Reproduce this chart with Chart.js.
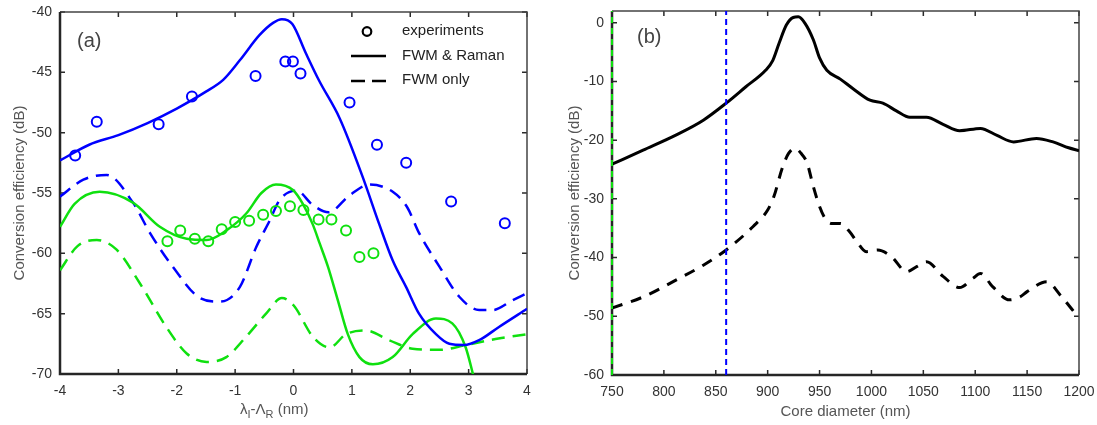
<!DOCTYPE html>
<html>
<head>
<meta charset="utf-8">
<script src="https://cdn.jsdelivr.net/npm/chart.js@4.4.1/dist/chart.umd.min.js"></script>
<style>
    body { margin: 0; background: #fff; }
    .panel { position: absolute; top: 0; }
    #panelA { left: 0; }
    #panelB { left: 560px; }
    .xlab {
        position: absolute; left: 240px; top: 400px;
        font: 15px 'Liberation Sans', Arial, sans-serif; color: #555;
    }
    .xlab sub { font-size: 11px; }
</style>
</head>
<body>
<div class="panel" id="panelA"><canvas id="chartA" width="560" height="425"></canvas></div>
<div class="panel" id="panelB"><canvas id="chartB" width="537" height="425"></canvas></div>
<div class="xlab">&lambda;<sub>I</sub>-&Lambda;<sub>R</sub> (nm)</div>

<script>
/* ── Data: panel (a) ─────────────────────────────────────────── */
const expBlueX  = [-3.74, -3.37, -2.31, -1.74, -0.65, -0.14, -0.01, 0.12, 0.96, 1.43, 1.93, 2.70, 3.62];
const expBlueY  = [-51.9, -49.1, -49.3, -47.0, -45.3, -44.1, -44.1, -45.1, -47.5, -51.0, -52.5, -55.7, -57.5];
const expGreenX = [-2.16, -1.94, -1.69, -1.46, -1.23, -1.0, -0.76, -0.52, -0.30, -0.06, 0.17, 0.43, 0.65, 0.90, 1.13, 1.37];
const expGreenY = [-59.0, -58.1, -58.8, -59.0, -58.0, -57.4, -57.3, -56.8, -56.5, -56.1, -56.4, -57.2, -57.2, -58.1, -60.3, -60.0];

const ramanBlueX = [-4, -3.5, -3.0, -2.5, -2.0, -1.5, -1.2, -0.92, -0.58, -0.35, -0.2, -0.02, 0.21, 0.44, 0.79, 1.18, 1.47, 1.70, 1.93, 2.15, 2.44, 2.67, 2.92, 3.18, 3.52, 4.0];
const ramanBlueY = [-52.3, -51.0, -50.2, -49.2, -48.0, -46.6, -45.6, -44.0, -41.9, -40.9, -40.6, -41.0, -43.4, -45.7, -48.8, -53.6, -57.6, -60.6, -62.8, -65.0, -66.7, -67.5, -67.6, -67.2, -66.1, -64.6];
const fwmBlueX   = [-4, -3.6, -3.2, -2.75, -2.46, -2.07, -1.6, -1.26, -0.92, -0.64, -0.41, -0.24, 0.05, 0.33, 0.6, 0.96, 1.3, 1.7, 1.95, 2.15, 2.5, 2.84, 3.18, 3.41, 3.75, 4.0];
const fwmBlueY   = [-55.3, -53.9, -53.5, -55.8, -58.3, -61.1, -63.7, -64.0, -62.8, -59.5, -57.3, -55.6, -54.8, -56.0, -56.6, -55.2, -54.3, -54.9, -56.2, -58.3, -61.1, -63.6, -64.7, -64.7, -63.9, -63.3];

const ramanGreenX = [-4, -3.75, -3.32, -2.75, -2.29, -1.83, -1.49, -1.15, -0.81, -0.55, -0.3, -0.01, 0.16, 0.33, 0.45, 0.59, 0.76, 0.93, 1.13, 1.36, 1.70, 2.04, 2.44, 2.72, 2.95, 3.1];
const ramanGreenY = [-57.8, -55.9, -54.9, -55.8, -57.8, -58.8, -58.9, -58.1, -56.7, -55.0, -54.3, -54.75, -55.9, -57.6, -59.2, -61.1, -63.9, -66.7, -68.6, -69.2, -68.6, -66.7, -65.4, -65.8, -67.8, -70.5];
const fwmGreenX   = [-4, -3.7, -3.37, -3.03, -2.63, -2.18, -1.83, -1.49, -1.15, -0.81, -0.47, -0.2, 0.0, 0.33, 0.62, 0.90, 1.24, 1.64, 2.04, 2.5, 2.95, 3.46, 4.0];
const fwmGreenY   = [-61.4, -59.4, -58.9, -59.7, -62.5, -66.1, -68.3, -69.0, -68.6, -66.9, -65.0, -63.7, -64.3, -66.9, -67.8, -66.7, -66.4, -67.2, -67.9, -68.0, -67.6, -67.1, -66.7];

const legendLabels = ['experiments', 'FWM & Raman', 'FWM only'];

/* ── Data: panel (b) ─────────────────────────────────────────── */
const coreX  = [750, 780, 812, 838, 860, 879, 898, 905, 911, 918, 924.6, 929.5, 936, 944, 950, 957, 970, 982, 998.6, 1011, 1024, 1037, 1053, 1069, 1085, 1105, 1121, 1137, 1159, 1175, 1190, 1200];
const coreY  = [-24.1, -21.7, -19.1, -16.6, -13.7, -10.9, -8.1, -6.4, -3.5, -0.4, 0.9, 1.0, -0.1, -2.9, -6.0, -8.1, -9.6, -11.2, -13.2, -13.7, -15.0, -16.1, -16.1, -17.3, -18.4, -18.0, -19.2, -20.3, -19.7, -20.3, -21.3, -21.8];
const coreFwmX = [750, 780, 812, 838, 860, 886, 900, 906, 914, 920, 926.5, 932, 938, 944, 950, 956, 962, 970, 979, 986, 995, 1006, 1019, 1034, 1044, 1053, 1069, 1085, 1098, 1105, 1117, 1133, 1143, 1150, 1169, 1182, 1195];
const coreFwmY = [-48.6, -46.7, -43.8, -41.3, -38.7, -34.7, -31.9, -29.6, -24.8, -22.3, -21.4, -22.2, -23.9, -27.9, -31.3, -33.5, -34.2, -34.2, -35.6, -37.3, -39.0, -38.7, -39.8, -42.4, -41.5, -40.7, -43.2, -45.1, -43.5, -42.7, -45.0, -47.2, -46.7, -45.8, -44.1, -46.4, -49.2];
const guideX = [750, 860];
const guideY = [-60, 2];

/* ── Helpers ──────────────────────────────────────────────────── */
const FONT = "'Liberation Sans', Arial, sans-serif";
const BLUE = '#0000ff', GREEN = '#0fe00f';

function pts(xs, ys) { return xs.map((x, i) => ({ x: x, y: ys[i] })); }

function curve(label, xs, ys, color, dash, width) {
    return {
        label: label, data: pts(xs, ys),
        borderColor: color, borderWidth: width || 2.5, borderDash: dash || [],
        pointRadius: 0, fill: false, cubicInterpolationMode: 'monotone'
    };
}

function markers(label, xs, ys, color) {
    return {
        label: label, data: pts(xs, ys), showLine: false,
        pointRadius: 5, pointBorderWidth: 2, pointBorderColor: color,
        pointBackgroundColor: 'rgba(0,0,0,0)', pointHoverRadius: 5
    };
}

// Inward MATLAB-style ticks + box; left/bottom heavier
const frameTicks = {
    id: 'frameTicks',
    beforeDatasetsDraw(chart) {
        const { ctx, chartArea: a, scales: { x, y } } = chart;
        ctx.save();
        ctx.strokeStyle = '#2a2a2a';
        ctx.lineWidth = 1.5;
        ctx.beginPath();
        x.ticks.forEach(t => {
            const px = x.getPixelForValue(t.value);
            ctx.moveTo(px, a.bottom); ctx.lineTo(px, a.bottom - 5);
            ctx.moveTo(px, a.top);    ctx.lineTo(px, a.top + 5);
        });
        y.ticks.forEach(t => {
            const py = y.getPixelForValue(t.value);
            ctx.moveTo(a.left, py);  ctx.lineTo(a.left + 5, py);
            ctx.moveTo(a.right, py); ctx.lineTo(a.right - 5, py);
        });
        ctx.stroke();
        // top & right (thin)
        ctx.strokeStyle = '#444';
        ctx.lineWidth = 1.5;
        ctx.beginPath();
        ctx.moveTo(a.left, a.top); ctx.lineTo(a.right, a.top); ctx.lineTo(a.right, a.bottom);
        ctx.stroke();
        // left & bottom (heavy)
        ctx.strokeStyle = '#262626';
        ctx.lineWidth = 2.5;
        ctx.beginPath();
        ctx.moveTo(a.left, a.top); ctx.lineTo(a.left, a.bottom); ctx.lineTo(a.right, a.bottom);
        ctx.stroke();
        ctx.restore();
    }
};

function panelTag(text, px, py) {
    return {
        id: 'panelTag',
        afterDraw(chart) {
            const ctx = chart.ctx;
            ctx.save();
            ctx.font = '20px ' + FONT;
            ctx.fillStyle = '#444';
            ctx.textBaseline = 'middle';
            ctx.fillText(text, px, py);
            ctx.restore();
        }
    };
}

// Legend drawn inside panel (a), generic black keys
const legendA = {
    id: 'legendA',
    afterDraw(chart) {
        const ctx = chart.ctx;
        ctx.save();
        ctx.strokeStyle = '#000';
        ctx.lineWidth = 2.2;
        ctx.beginPath(); ctx.arc(367, 31.5, 4.3, 0, Math.PI * 2); ctx.stroke();
        ctx.lineWidth = 2.5;
        ctx.beginPath(); ctx.moveTo(351, 56); ctx.lineTo(386, 56); ctx.stroke();
        ctx.beginPath();
        ctx.moveTo(351, 81); ctx.lineTo(365, 81);
        ctx.moveTo(372, 81); ctx.lineTo(386, 81);
        ctx.stroke();
        ctx.font = '15px ' + FONT;
        ctx.fillStyle = '#222';
        ctx.textBaseline = 'middle';
        legendLabels.forEach((t, i) => ctx.fillText(t, 402, 31 + i * 24.5));
        ctx.restore();
    }
};

function axisX(min, max, step, height, title) {
    return {
        type: 'linear', min: min, max: max,
        grid: { display: false }, border: { display: false },
        ticks: { stepSize: step, padding: 1, color: '#333', font: { family: FONT, size: 14 }, maxRotation: 0, callback: v => String(v) },
        title: title ? { display: true, text: title, color: '#555', font: { family: FONT, size: 15 }, padding: { top: 0, bottom: 4 } } : { display: false },
        afterFit: s => { s.height = height; }
    };
}

function axisY(min, max, step, width, titlePad) {
    return {
        type: 'linear', min: min, max: max, bounds: 'data',
        grid: { display: false }, border: { display: false },
        ticks: { stepSize: step, includeBounds: false, padding: 0, color: '#333', font: { family: FONT, size: 14 }, callback: v => String(v) },
        title: { display: true, text: 'Conversion efficiency (dB)', color: '#555', font: { family: FONT, size: 15 }, padding: { top: titlePad, bottom: 0 } },
        afterBuildTicks: s => { s.ticks = s.ticks.filter(t => t.value % step === 0 && t.value <= max); },
        afterFit: s => { s.width = width; }
    };
}

const baseOptions = {
    responsive: false,
    animation: false,
    plugins: { legend: { display: false }, tooltip: { enabled: false } }
};

/* ── Panel (a) ────────────────────────────────────────────────── */
new Chart(document.getElementById('chartA'), {
    type: 'line',
    data: {
        datasets: [
            markers('experiments', expBlueX, expBlueY, BLUE),
            markers('experiments', expGreenX, expGreenY, GREEN),
            curve('FWM & Raman', ramanBlueX, ramanBlueY, BLUE),
            curve('FWM & Raman', ramanGreenX, ramanGreenY, GREEN),
            curve('FWM only', fwmBlueX, fwmBlueY, BLUE, [13, 8]),
            curve('FWM only', fwmGreenX, fwmGreenY, GREEN, [13, 8])
        ]
    },
    options: Object.assign({}, baseOptions, {
        layout: { padding: { left: 0, right: 33, top: 12, bottom: 0 } },
        scales: {
            x: axisX(-4, 4, 1, 51, null),
            y: axisY(-70, -40, 5, 60, 11)
        }
    }),
    plugins: [frameTicks, legendA, panelTag('(a)', 77, 41)]
});

/* ── Panel (b) ────────────────────────────────────────────────── */
new Chart(document.getElementById('chartB'), {
    type: 'line',
    data: {
        datasets: [
            Object.assign(curve('guide', [guideX[0], guideX[0]], guideY, GREEN, [6, 5], 2), { cubicInterpolationMode: 'default', clip: false }),
            Object.assign(curve('guide', [guideX[1], guideX[1]], guideY, BLUE, [6, 4], 2), { cubicInterpolationMode: 'default' }),
            curve('FWM & Raman', coreX, coreY, '#000', [], 3),
            curve('FWM only', coreFwmX, coreFwmY, '#000', [11, 9], 3)
        ]
    },
    options: Object.assign({}, baseOptions, {
        layout: { padding: { left: 0, right: 18, top: 11, bottom: 0 } },
        scales: {
            x: axisX(750, 1200, 50, 50, 'Core diameter (nm)'),
            y: axisY(-60, 2, 10, 52, 6)
        }
    }),
    plugins: [frameTicks, panelTag('(b)', 77, 37)]
});
</script>
</body>
</html>
